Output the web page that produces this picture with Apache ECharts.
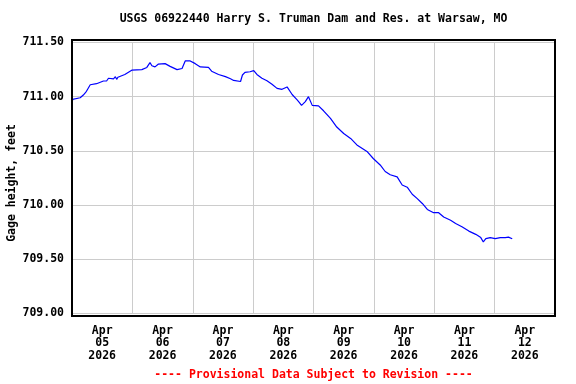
<!DOCTYPE html>
<html>
<head>
<meta charset="utf-8">
<script src="https://cdn.jsdelivr.net/npm/echarts@6/dist/echarts.min.js"></script>
<style>html,body{margin:0;padding:0;background:#fff;}#c{width:576px;height:384px;}</style>
</head>
<body>
<div id="c"></div>
<script>
const titleText = 'USGS 06922440 Harry S. Truman Dam and Res. at Warsaw, MO';
const footerText = '---- Provisional Data Subject to Revision ----';
const yName = 'Gage height, feet';
const dayLabels = ['Apr\n05\n2026','Apr\n06\n2026','Apr\n07\n2026','Apr\n08\n2026','Apr\n09\n2026','Apr\n10\n2026','Apr\n11\n2026','Apr\n12\n2026'];
const xMin = '2026-04-05 00:00';
const xMax = '2026-04-13 00:00';
const yMin = 709.0, yMax = 711.5, yStep = 0.5;

const times = [
 '2026-04-05 00:00','2026-04-05 00:15','2026-04-05 03:15','2026-04-05 04:30','2026-04-05 05:45','2026-04-05 07:15','2026-04-05 07:45','2026-04-05 09:45','2026-04-05 12:30','2026-04-05 13:15','2026-04-05 13:45','2026-04-05 14:30','2026-04-05 16:30','2026-04-05 17:15','2026-04-05 17:45','2026-04-05 18:15','2026-04-05 19:00','2026-04-05 21:00','2026-04-05 23:45',
 '2026-04-06 03:45','2026-04-06 05:45','2026-04-06 07:00','2026-04-06 07:45','2026-04-06 08:15','2026-04-06 09:00','2026-04-06 10:15','2026-04-06 13:00','2026-04-06 15:00','2026-04-06 17:45','2026-04-06 19:45','2026-04-06 21:00','2026-04-06 23:00',
 '2026-04-07 01:00','2026-04-07 03:00','2026-04-07 06:15','2026-04-07 07:30','2026-04-07 10:15','2026-04-07 13:00','2026-04-07 15:00','2026-04-07 15:45','2026-04-07 16:15','2026-04-07 17:00','2026-04-07 19:00','2026-04-07 19:45','2026-04-07 20:45','2026-04-07 22:45',
 '2026-04-08 00:15','2026-04-08 01:30','2026-04-08 03:30','2026-04-08 05:30','2026-04-08 07:30','2026-04-08 09:30','2026-04-08 11:30','2026-04-08 13:30','2026-04-08 15:30','2026-04-08 17:30','2026-04-08 18:15','2026-04-08 19:15','2026-04-08 20:45','2026-04-08 22:00','2026-04-08 23:30',
 '2026-04-09 02:00','2026-04-09 04:00','2026-04-09 06:45','2026-04-09 09:15','2026-04-09 12:00','2026-04-09 14:45','2026-04-09 17:15','2026-04-09 19:15','2026-04-09 21:15','2026-04-09 23:45',
 '2026-04-10 02:30','2026-04-10 04:30','2026-04-10 06:30','2026-04-10 09:15','2026-04-10 11:15','2026-04-10 13:15','2026-04-10 15:15','2026-04-10 17:15','2026-04-10 19:15','2026-04-10 21:15','2026-04-10 23:45',
 '2026-04-11 00:15','2026-04-11 01:45','2026-04-11 03:45','2026-04-11 06:30','2026-04-11 08:30','2026-04-11 11:00','2026-04-11 13:45','2026-04-11 16:30','2026-04-11 18:30','2026-04-11 19:30','2026-04-11 20:30','2026-04-11 22:15',
 '2026-04-12 00:15','2026-04-12 01:00','2026-04-12 02:15','2026-04-12 04:15','2026-04-12 05:30','2026-04-12 07:00'
];
const heights = [
 710.93,710.975,710.99,711.015,711.05,711.11,711.125,711.12,711.145,711.16,711.145,711.17,711.165,711.185,711.16,711.18,711.175,711.205,711.245,
 711.25,711.27,711.315,711.285,711.30,711.275,711.30,711.305,711.28,711.25,711.26,711.33,711.33,
 711.305,711.275,711.27,711.235,711.205,711.185,711.165,711.175,711.15,711.155,711.14,711.20,711.225,711.23,
 711.24,711.205,711.17,711.147,711.115,711.077,711.068,711.09,711.02,710.97,710.95,710.92,710.955,711.0,710.92,
 710.915,710.87,710.80,710.72,710.66,710.615,710.555,710.525,710.495,710.43,
 710.37,710.31,710.28,710.26,710.185,710.165,710.10,710.06,710.015,709.96,709.93,
 709.945,709.93,709.89,709.86,709.83,709.80,709.76,709.73,709.70,709.66,709.69,709.70,
 709.69,709.705,709.70,709.70,709.705,709.69
];

const FONT = '"DejaVu Sans Mono", "Liberation Mono", monospace';
const chart = echarts.init(document.getElementById('c'), null, {renderer: 'canvas'});
chart.setOption({
  animation: false,
  backgroundColor: '#fff',
  grid: [
    {left: 72, right: 21, top: 40, bottom: 68, show: true, borderColor: '#000', borderWidth: 2, backgroundColor: 'transparent', z: 5, outerBoundsMode: 'none', containLabel: false},
    {left: 72, right: 21, top: 42.5, bottom: 70.5, containLabel: false, outerBoundsMode: 'none'}
  ],
  xAxis: [
    {gridIndex: 0, type: 'value', show: false},
    {gridIndex: 1, type: 'time', position: 'top', min: xMin, max: xMax,
     minInterval: 86400000, maxInterval: 86400000, splitNumber: 8,
     axisLine: {show: false}, axisTick: {show: false}, axisLabel: {show: false},
     splitLine: {show: true, lineStyle: {color: '#cccccc', width: 1}}},
    {gridIndex: 1, type: 'category', position: 'bottom', data: dayLabels, boundaryGap: true,
     axisLine: {show: false}, axisTick: {show: false}, splitLine: {show: false},
     axisLabel: {interval: 0, margin: 11, lineHeight: 12.5, color: '#000', fontFamily: FONT, fontWeight: 'bold', fontSize: 11.5}}
  ],
  yAxis: [
    {gridIndex: 0, type: 'value', show: false},
    {gridIndex: 1, type: 'value', min: yMin, max: yMax, interval: yStep,
     axisLine: {show: false}, axisTick: {show: false},
     axisLabel: {margin: 8, color: '#000', fontFamily: FONT, fontWeight: 'bold', fontSize: 11.5,
       formatter: v => v.toFixed(2)},
     splitLine: {show: true, lineStyle: {color: '#cccccc', width: 1}}}
  ],
  graphic: [
    {type: 'text', x: 313.5, y: 19, style: {text: titleText, textAlign: 'center', textVerticalAlign: 'middle', font: 'bold 11.5px ' + FONT, fill: '#000'}},
    {type: 'text', x: 12, y: 183, rotation: Math.PI / 2, style: {text: yName, textAlign: 'center', textVerticalAlign: 'middle', font: 'bold 11.5px ' + FONT, fill: '#000'}},
    {type: 'text', x: 313.5, y: 375, style: {text: footerText, textAlign: 'center', textVerticalAlign: 'middle', font: 'bold 11.5px ' + FONT, fill: '#ff0000'}}
  ],
  series: [{
    type: 'line', xAxisIndex: 1, yAxisIndex: 1, showSymbol: false, symbol: 'none',
    lineStyle: {color: '#0000ff', width: 1.2}, z: 3,
    data: times.map((t, i) => [t, heights[i]])
  }]
});
</script>
</body>
</html>
